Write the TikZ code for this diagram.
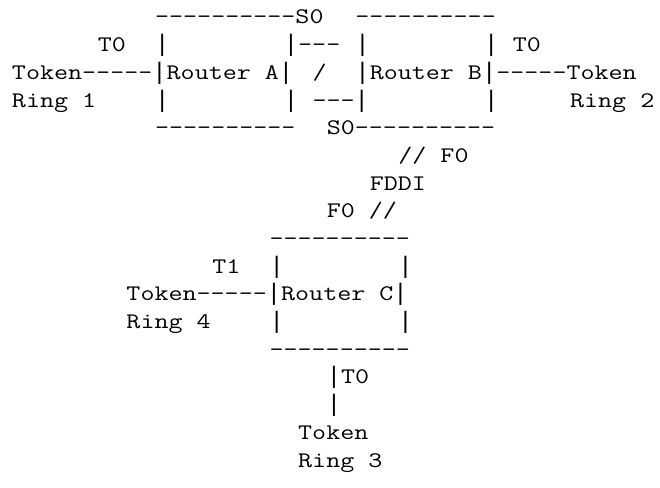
\documentclass[tikz,border=0pt]{standalone}
\usepackage{fontspec}
\setmonofont{Latin Modern Mono}[FakeStretch=1.2245]
\newfontfamily\barfont{Liberation Mono}
% full-height vertical bar, same advance width as the other columns
\newcommand\vb{{\barfont\fontsize{23.85}{27}\selectfont|}}
\begin{document}
\begin{tikzpicture}[x=1pt,y=1pt,
  asc/.style={anchor=base west,inner sep=0pt,outer sep=0pt,
    font=\ttfamily\fontsize{22.26}{27}\selectfont}]
% character grid: column width 14.31pt, row height 27.69pt
\newcommand\cw{14.31}
\newcommand\rh{27.69}
\newcommand\txt[4]{\node[asc] (#1) at ({12+#3*\cw},{-24-#2*\rh}) {#4};}
\useasboundingbox (0,0) rectangle (660,-487);
% routers A and B with the serial link between them
\txt{topA}{0}{10}{----------S0}
\txt{topB}{0}{24}{----------}
\txt{tzeroA}{1}{6}{T0}
\txt{aL1}{1}{10}{\vb}
\txt{aR1}{1}{19}{\vb---}
\txt{bL1}{1}{24}{\vb}
\txt{bR1}{1}{33}{\vb}
\txt{tzeroB}{1}{35}{T0}
\txt{ringoneA}{2}{0}{Token-----\vb Router A\vb}
\txt{slash}{2}{21}{/}
\txt{routerB}{2}{24}{\vb Router B\vb-----Token}
\txt{ringone}{3}{0}{Ring 1}
\txt{aL3}{3}{10}{\vb}
\txt{aR3}{3}{19}{\vb}
\txt{bL3}{3}{21}{---\vb}
\txt{bR3}{3}{33}{\vb}
\txt{ringtwo}{3}{39}{Ring 2}
\txt{botA}{4}{10}{----------}
\txt{botB}{4}{22}{S0----------}
% FDDI link down to router C
\txt{fddiA}{5}{27}{// F0}
\txt{fddi}{6}{25}{FDDI}
\txt{fddiC}{7}{22}{F0 //}
% router C
\txt{topC}{8}{18}{----------}
\txt{toneC}{9}{14}{T1}
\txt{cL1}{9}{18}{\vb}
\txt{cR1}{9}{27}{\vb}
\txt{routerC}{10}{8}{Token-----\vb Router C\vb}
\txt{ringfour}{11}{8}{Ring 4}
\txt{cL3}{11}{18}{\vb}
\txt{cR3}{11}{27}{\vb}
\txt{botC}{12}{18}{----------}
\txt{tzeroC}{13}{22}{\vb T0}
\txt{drop}{14}{22}{\vb}
\txt{tokthree}{15}{20}{Token}
\txt{ringthree}{16}{20}{Ring 3}
\end{tikzpicture}
\end{document}
